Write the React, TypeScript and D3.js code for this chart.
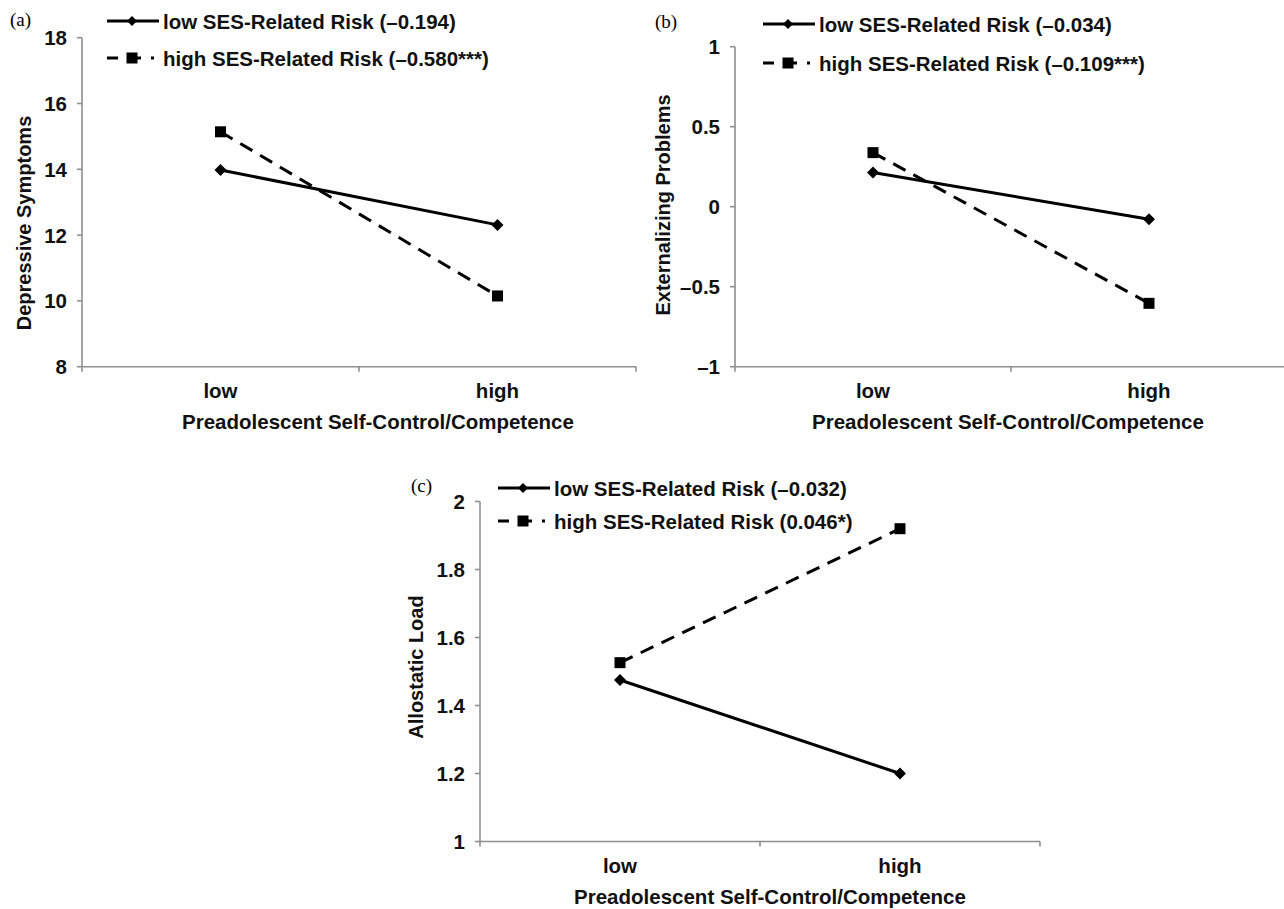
import React from "react";
import * as d3 from "d3";

const categories = ["low", "high"];

const depressiveLowSES = [13.98, 12.31];
const depressiveHighSES = [15.14, 10.15];
const depressiveTicks = [8, 10, 12, 14, 16, 18];

const externalizingLowSES = [0.214, -0.079];
const externalizingHighSES = [0.338, -0.604];
const externalizingTicks = [-1, -0.5, 0, 0.5, 1];

const allostaticLowSES = [1.475, 1.2];
const allostaticHighSES = [1.526, 1.92];
const allostaticTicks = [1, 1.2, 1.4, 1.6, 1.8, 2];

const legendA = ["low SES-Related Risk (–0.194)", "high SES-Related Risk (–0.580***)"];
const legendB = ["low SES-Related Risk (–0.034)", "high SES-Related Risk (–0.109***)"];
const legendC = ["low SES-Related Risk (–0.032)", "high SES-Related Risk (0.046*)"];

const xTitle = "Preadolescent Self-Control/Competence";

const FONT = "'Liberation Sans', Arial, sans-serif";
const AXIS = "#8f8f8f";
const FS = 20.5;
const FS_V = 20;

const fmt = (v: number) => (v < 0 ? "–" + String(Math.abs(v)) : String(v));

type PanelProps = {
  letter: string;
  letterPos: [number, number];
  x0: number;
  x1: number;
  yTop: number;
  yBottom: number;
  domain: [number, number];
  ticks: number[];
  lowSeries: number[];
  highSeries: number[];
  legend: string[];
  legendX: number;
  legendY: [number, number];
  yTitle: string;
  yTitlePos: [number, number];
  xTitleX: number;
};

function Diamond({ x, y, r }: { x: number; y: number; r: number }) {
  return <path d={`M${x},${y - r}L${x + r},${y}L${x},${y + r}L${x - r},${y}Z`} fill="#000" />;
}
function Square({ x, y, s }: { x: number; y: number; s: number }) {
  return <rect x={x - s / 2} y={y - s / 2} width={s} height={s} fill="#000" />;
}

function Panel(p: PanelProps) {
  const x = d3.scalePoint<string>().domain(categories).range([p.x0, p.x1]).padding(0.5);
  const y = d3.scaleLinear().domain(p.domain).range([p.yBottom, p.yTop]);
  const line = d3
    .line<number>()
    .x((_, i) => x(categories[i]) as number)
    .y((d) => y(d));
  const mid = (p.x0 + p.x1) / 2;
  const lx = p.legendX;
  return (
    <g fontFamily={FONT}>
      <text x={p.letterPos[0]} y={p.letterPos[1]} fontFamily="'Liberation Serif', 'Times New Roman', serif" fontSize={19} dominantBaseline="middle">
        {p.letter}
      </text>
      {/* y axis */}
      <line x1={p.x0} x2={p.x0} y1={p.yTop} y2={p.yBottom} stroke={AXIS} strokeWidth={1.6} />
      {p.ticks.map((t) => (
        <g key={t}>
          <line x1={p.x0 - 5} x2={p.x0} y1={y(t)} y2={y(t)} stroke={AXIS} strokeWidth={1.6} />
          <text x={p.x0 - 15} y={y(t)} textAnchor="end" dominantBaseline="central" fontSize={FS} fontWeight="bold" fill="#111">
            {fmt(t)}
          </text>
        </g>
      ))}
      {/* x axis */}
      <line x1={p.x0} x2={p.x1} y1={p.yBottom} y2={p.yBottom} stroke={AXIS} strokeWidth={1.6} />
      {[p.x0, mid, p.x1].map((tx, i) => (
        <line key={i} x1={tx} x2={tx} y1={p.yBottom} y2={p.yBottom + 5} stroke={AXIS} strokeWidth={1.6} />
      ))}
      {categories.map((c) => (
        <text key={c} x={x(c)} y={p.yBottom + 24} textAnchor="middle" dominantBaseline="central" fontSize={FS} fontWeight="bold" fill="#111">
          {c}
        </text>
      ))}
      <text x={p.xTitleX} y={p.yBottom + 55} textAnchor="middle" dominantBaseline="central" fontSize={FS} fontWeight="bold" fill="#111">
        {xTitle}
      </text>
      <text
        transform={`translate(${p.yTitlePos[0]},${p.yTitlePos[1]}) rotate(-90)`}
        textAnchor="middle"
        dominantBaseline="central"
        fontSize={FS_V}
        fontWeight="bold"
        fill="#111"
      >
        {p.yTitle}
      </text>
      {/* series */}
      <path d={line(p.highSeries) || ""} fill="none" stroke="#000" strokeWidth={3} strokeDasharray="14,9" />
      <path d={line(p.lowSeries) || ""} fill="none" stroke="#000" strokeWidth={3} />
      {p.lowSeries.map((v, i) => (
        <Diamond key={"d" + i} x={x(categories[i]) as number} y={y(v)} r={6} />
      ))}
      {p.highSeries.map((v, i) => (
        <Square key={"s" + i} x={x(categories[i]) as number} y={y(v)} s={11} />
      ))}
      {/* legend */}
      <line x1={lx} x2={lx + 52} y1={p.legendY[0]} y2={p.legendY[0]} stroke="#000" strokeWidth={3} />
      <Diamond x={lx + 25} y={p.legendY[0]} r={5} />
      <text x={lx + 56} y={p.legendY[0]} dominantBaseline="central" fontSize={FS} fontWeight="bold" fill="#111">
        {p.legend[0]}
      </text>
      <line x1={lx} x2={lx + 52} y1={p.legendY[1]} y2={p.legendY[1]} stroke="#000" strokeWidth={3} strokeDasharray="11,13,10,10,3,100" />
      <Square x={lx + 25} y={p.legendY[1]} s={11} />
      <text x={lx + 56} y={p.legendY[1]} dominantBaseline="central" fontSize={FS} fontWeight="bold" fill="#111">
        {p.legend[1]}
      </text>
    </g>
  );
}

export default function App() {
  return (
    <svg width={1284} height={909} style={{ position: "absolute", left: 0, top: 0, background: "#fff" }}>
      <rect width={1284} height={909} fill="#fff" />
      <Panel
        letter="(a)"
        letterPos={[10, 22]}
        x0={82}
        x1={636}
        yTop={37.7}
        yBottom={366.7}
        domain={[8, 18]}
        ticks={depressiveTicks}
        lowSeries={depressiveLowSES}
        highSeries={depressiveHighSES}
        legend={legendA}
        legendX={107}
        legendY={[21, 58]}
        yTitle="Depressive Symptoms"
        yTitlePos={[24, 223]}
        xTitleX={378}
      />
      <Panel
        letter="(b)"
        letterPos={[655, 24]}
        x0={735}
        x1={1287}
        yTop={46.7}
        yBottom={366.7}
        domain={[-1, 1]}
        ticks={externalizingTicks}
        lowSeries={externalizingLowSES}
        highSeries={externalizingHighSES}
        legend={legendB}
        legendX={763}
        legendY={[24, 63]}
        yTitle="Externalizing Problems"
        yTitlePos={[663, 205]}
        xTitleX={1008}
      />
      <Panel
        letter="(c)"
        letterPos={[411, 488]}
        x0={480}
        x1={1040}
        yTop={501.5}
        yBottom={841.5}
        domain={[1, 2]}
        ticks={allostaticTicks}
        lowSeries={allostaticLowSES}
        highSeries={allostaticHighSES}
        legend={legendC}
        legendX={498}
        legendY={[488, 521]}
        yTitle="Allostatic Load"
        yTitlePos={[416, 667]}
        xTitleX={770}
      />
    </svg>
  );
}
